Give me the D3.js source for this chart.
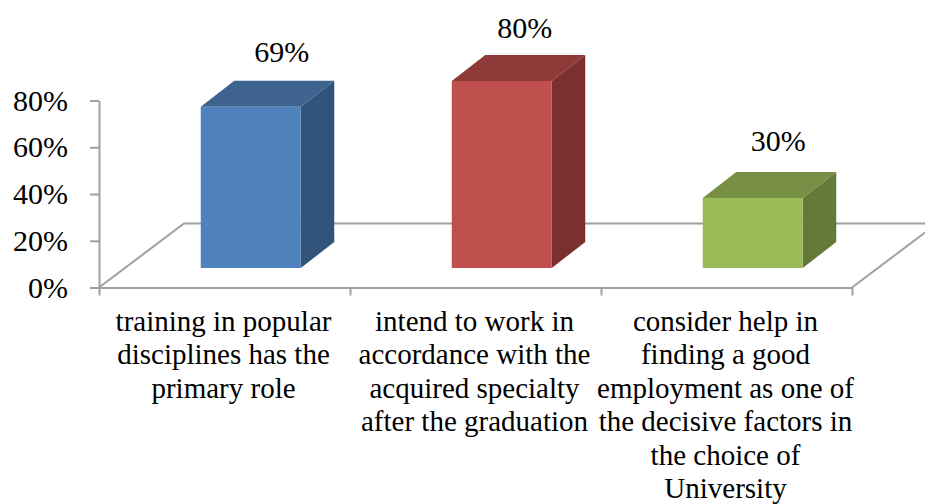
<!DOCTYPE html>
<html>
<head>
<meta charset="utf-8">
<script src="https://cdn.jsdelivr.net/npm/d3@7"></script>
<style>
	body { margin: 0; background: #fff; }
	text { font-family: "Liberation Serif", serif; fill: #000; }
	.axis path, .axis line, .floor { stroke: #a0a0a0; stroke-width: 2; fill: none; }
</style>
</head>
<body>
<div id="graphic"></div>
<script>
const categories = [
	['training in popular', 'disciplines has the', 'primary role'],
	['intend to work in', 'accordance with the', 'acquired specialty', 'after the graduation'],
	['consider help in', 'finding a good', 'employment as one of', 'the decisive factors in', 'the choice of', 'University']
];
const values = [69, 80, 30];
const yTicks = [0, 20, 40, 60, 80];
const faceColours = ['#4f81bd', '#c0504d', '#9bbb59'];
const topColours = ['#3e638f', '#8f3a38', '#768f44'];
const sideColours = ['#32547b', '#7b302e', '#647a38'];

const width = 925, height = 504;
const svg = d3.select('#graphic').append('svg')
	.attr('width', width)
	.attr('height', height)
	.style('display', 'block');

const y = d3.scaleLinear().domain([0, 80]).range([287.5, 100.5]);
const x = d3.scaleLinear().domain([0, categories.length]).range([99, 852]);

// depth of the floor and of the bars, in pixels
const floorDepth = { x: 85, y: -64 };
const barDepth = { x: 33.5, y: -26 };
const barLift = -19.5, barWidth = 100, barShift = 26.25;

// value labels sit a little unevenly over the bars
const labelNudge = [[31, -19], [23, -17], [25.5, -21]];

// floor outline behind the bars
svg.append('path')
	.attr('class', 'floor')
	.attr('d', d3.line()([
		[x(0), y(0)],
		[x(0) + floorDepth.x, y(0) + floorDepth.y],
		[width, y(0) + floorDepth.y]
	]));
svg.append('path')
	.attr('class', 'floor')
	.attr('d', d3.line()([
		[x(3), y(0)],
		[width, y(0) + (width - x(3)) * floorDepth.y / floorDepth.x]
	]));

// axes
svg.append('g')
	.attr('class', 'y axis')
	.attr('transform', `translate(${x(0)},0)`)
	.call(d3.axisLeft(y).tickValues(yTicks).tickSize(9).tickSizeOuter(0).tickFormat(''));
svg.append('g')
	.attr('class', 'x axis')
	.attr('transform', `translate(0,${y(0)})`)
	.call(d3.axisBottom(x).tickValues(d3.range(categories.length + 1)).tickSize(8).tickSizeOuter(0).tickFormat(''));

yTicks.forEach(t => {
	svg.append('text')
		.attr('x', 68)
		.attr('y', y(t) + 10)
		.attr('text-anchor', 'end')
		.style('font-size', '30px')
		.text(t + '%');
});

// bars
values.forEach((v, i) => {
	const left = (x(i) + x(i + 1)) / 2 + barShift - barWidth / 2;
	const right = left + barWidth;
	const top = y(v) + barLift;
	const bottom = y(0) + barLift;
	const g = svg.append('g');

	g.append('path').attr('fill', sideColours[i]).attr('d', d3.line()([
		[right, top],
		[right + barDepth.x, top + barDepth.y],
		[right + barDepth.x, bottom + barDepth.y],
		[right, bottom]
	]) + 'Z');
	g.append('path').attr('fill', topColours[i]).attr('d', d3.line()([
		[left, top],
		[left + barDepth.x, top + barDepth.y],
		[right + barDepth.x, top + barDepth.y],
		[right, top]
	]) + 'Z');
	g.append('rect')
		.attr('x', left)
		.attr('y', top)
		.attr('width', barWidth)
		.attr('height', bottom - top)
		.attr('fill', faceColours[i]);

	svg.append('text')
		.attr('x', (left + right) / 2 + labelNudge[i][0])
		.attr('y', top + barDepth.y + labelNudge[i][1])
		.attr('text-anchor', 'middle')
		.style('font-size', '30px')
		.text(v + '%');
});

// category labels
categories.forEach((lines, i) => {
	svg.append('text')
		.attr('text-anchor', 'middle')
		.style('font-size', '29px')
		.selectAll('tspan')
		.data(lines)
		.join('tspan')
		.attr('x', (x(i) + x(i + 1)) / 2 - 1)
		.attr('y', (d, j) => 331 + j * 33.4)
		.text(d => d);
});
</script>
</body>
</html>
